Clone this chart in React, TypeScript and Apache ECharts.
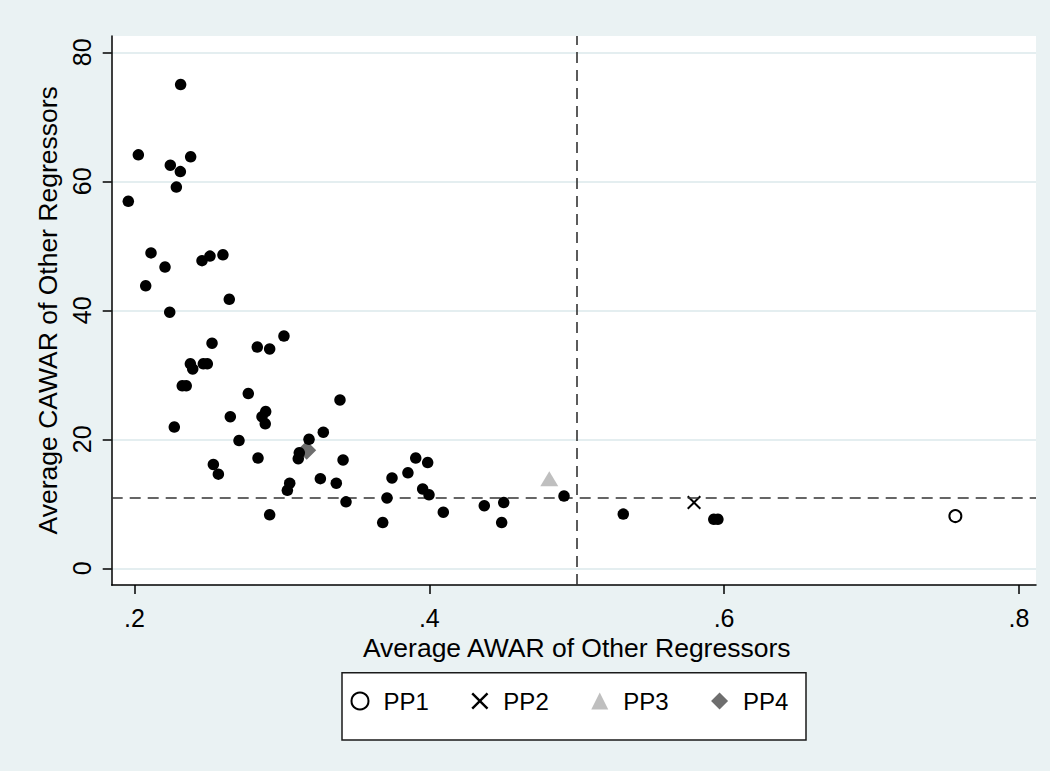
import React, { useEffect, useRef } from 'react';
import * as echarts from 'echarts';

// markers named in the legend
const pp1 = [[0.7569, 8.1]];
const pp2 = [[0.5796, 10.2]];
const pp3 = [[0.4814, 13.9]];
const pp4 = [[0.3168, 18.3]];

// the other regressors (black dots)
const others = [
  [0.2313, 75.0], [0.2026, 64.1], [0.2243, 62.5], [0.2381, 63.8], [0.2311, 61.5],
  [0.2284, 59.1], [0.1958, 56.9], [0.2112, 48.9], [0.2207, 46.7], [0.2458, 47.7],
  [0.2512, 48.4], [0.26, 48.6], [0.2076, 43.8], [0.2643, 41.7], [0.2239, 39.7],
  [0.3014, 36.0], [0.2526, 34.9], [0.2833, 34.3], [0.2917, 34.0], [0.2379, 31.7],
  [0.2395, 30.9], [0.2467, 31.7], [0.2494, 31.7], [0.2324, 28.3], [0.2351, 28.3],
  [0.2772, 27.1], [0.3394, 26.1], [0.227, 21.9], [0.265, 23.5], [0.289, 24.3],
  [0.2865, 23.5], [0.2887, 22.4], [0.3281, 21.1], [0.2709, 19.8], [0.3184, 20.0],
  [0.2838, 17.1], [0.3118, 17.9], [0.3111, 17.0], [0.3415, 16.8], [0.2535, 16.1],
  [0.2569, 14.6], [0.3261, 13.9], [0.3369, 13.2], [0.3053, 13.2], [0.3037, 12.1],
  [0.3435, 10.3], [0.2917, 8.3], [0.3908, 17.1], [0.3989, 16.4], [0.3855, 14.8],
  [0.3747, 14.0], [0.3955, 12.3], [0.3998, 11.4], [0.3713, 10.9], [0.3684, 7.1],
  [0.4095, 8.7], [0.4373, 9.7], [0.4505, 10.2], [0.4491, 7.1], [0.4914, 11.2],
  [0.5316, 8.4], [0.593, 7.6], [0.5958, 7.6],
];

const legendNames = ['PP1', 'PP2', 'PP3', 'PP4'];
const xTickRange = [0.2, 0.8];
const yTickRange = [0, 80];
const refX = 0.5;
const refY = 10.95;

const FONT = 'Liberation Sans, Arial, Helvetica, sans-serif';
const BG = '#eaf2f3';
const CROSS = 'path://M0,10L10,0L50,40L90,0L100,10L60,50L100,90L90,100L50,60L10,100L0,90L40,50Z';

// plot region in pixels
const L = 111.7, R = 1036, T = 36, B = 585;
const X0PX = 134.5, XPX = 1474; // pixel of x=.2, pixels per unit
const Y0PX = 568.3, YPX = 6.45; // pixel of y=0, pixels per unit

export default function App() {
  const ref = useRef<HTMLDivElement>(null);

  useEffect(() => {
    if (!ref.current) return;
    const chart = echarts.init(ref.current, undefined, { renderer: 'svg' });
    const xMin = 0.2 - (X0PX - L) / XPX;
    const xMax = 0.2 + (R - X0PX) / XPX;
    const yMin = -(B - Y0PX) / YPX;
    const yMax = (Y0PX - T) / YPX;
    const gridTop2 = Y0PX - yTickRange[1] * YPX;

    chart.setOption({
      animation: false,
      backgroundColor: BG,
      textStyle: { fontFamily: FONT, color: '#000' },
      graphic: [
        { type: 'rect', z: -10, shape: { x: L, y: T, width: R - L, height: B - T }, style: { fill: '#fff' } },
        {
          type: 'rect', z: -10,
          shape: { x: 342, y: 672.7, width: 464, height: 67.3 },
          style: { fill: '#fff', stroke: '#1a1a1a', lineWidth: 1.5 },
        },
      ],
      legend: {
        data: legendNames,
        left: 350.5,
        top: 689,
        padding: 0,
        itemGap: 42.5,
        itemWidth: 17,
        itemHeight: 17,
        selectedMode: false,
        textStyle: { fontSize: 24, color: '#000', fontFamily: FONT, padding: [0, 0, 0, 10] },
      },
      grid: [
        { left: L, top: T, width: R - L, height: B - T },
        { left: L, top: gridTop2, width: R - L, height: Y0PX - gridTop2 },
        { left: X0PX, top: T, width: (xTickRange[1] - xTickRange[0]) * XPX, height: B - T },
      ],
      xAxis: [
        {
          gridIndex: 0, type: 'value', min: xMin, max: xMax,
          axisLine: { show: true, onZero: false, lineStyle: { color: '#000', width: 1.5 } },
          axisTick: { show: false }, axisLabel: { show: false }, splitLine: { show: false },
        },
        { gridIndex: 1, type: 'value', min: 0, max: 1, show: false },
        {
          gridIndex: 2, type: 'value', min: xTickRange[0], max: xTickRange[1], interval: 0.2,
          axisLine: { show: false, onZero: false },
          axisTick: { show: true, length: 9, lineStyle: { color: '#000', width: 1.5 } },
          axisLabel: {
            fontSize: 25, color: '#000', margin: 20, fontFamily: FONT,
            formatter: (v: number) => v.toFixed(1).replace(/^0/, ''),
          },
          splitLine: { show: false },
          name: 'Average AWAR of Other Regressors',
          nameLocation: 'middle',
          nameGap: 47,
          nameTextStyle: { fontSize: 26.5, color: '#000', fontFamily: FONT },
        },
      ],
      yAxis: [
        {
          gridIndex: 0, type: 'value', min: yMin, max: yMax,
          axisLine: { show: true, onZero: false, lineStyle: { color: '#000', width: 1.5 } },
          axisTick: { show: false }, axisLabel: { show: false }, splitLine: { show: false },
        },
        {
          gridIndex: 1, type: 'value', min: yTickRange[0], max: yTickRange[1], interval: 20,
          axisLine: { show: false, onZero: false },
          axisTick: { show: true, length: 9, lineStyle: { color: '#000', width: 1.5 } },
          axisLabel: { fontSize: 25, color: '#000', rotate: 90, margin: 17, fontFamily: FONT },
          splitLine: { show: true, lineStyle: { color: '#e4eef0', width: 2 } },
          name: 'Average CAWAR of Other Regressors',
          nameLocation: 'middle',
          nameGap: 45,
          nameTextStyle: { fontSize: 26.5, color: '#000', fontFamily: FONT },
        },
        { gridIndex: 2, type: 'value', min: 0, max: 1, show: false },
      ],
      series: [
        {
          name: 'refs', type: 'scatter', xAxisIndex: 0, yAxisIndex: 0, data: [], z: 1,
          markLine: {
            silent: true, symbol: ['none', 'none'], label: { show: false },
            lineStyle: { color: '#333', width: 1.6, type: [11, 7] },
            data: [{ xAxis: refX }, { yAxis: refY }],
          },
        },
        {
          name: 'PP1', type: 'scatter', xAxisIndex: 0, yAxisIndex: 0, data: pp1, z: 3,
          symbol: 'emptyCircle', symbolSize: 12,
          itemStyle: { color: '#000', borderColor: '#000', borderWidth: 2, opacity: 1 },
        },
        {
          name: 'PP2', type: 'scatter', xAxisIndex: 0, yAxisIndex: 0, data: pp2, z: 3,
          symbol: CROSS, symbolSize: 14, itemStyle: { color: '#000', opacity: 1 },
        },
        {
          name: 'PP3', type: 'scatter', xAxisIndex: 0, yAxisIndex: 0, data: pp3, z: 3,
          symbol: 'triangle', symbolSize: [18, 15], itemStyle: { color: '#bfbfbf', opacity: 1 },
        },
        {
          name: 'PP4', type: 'scatter', xAxisIndex: 0, yAxisIndex: 0, data: pp4, z: 3,
          symbol: 'diamond', symbolSize: 19, itemStyle: { color: '#6e6e6e', opacity: 1 },
        },
        {
          name: 'others', type: 'scatter', xAxisIndex: 0, yAxisIndex: 0, data: others, z: 5,
          symbol: 'circle', symbolSize: 11.5, itemStyle: { color: '#000', opacity: 1 },
        },
      ],
    });
    return () => chart.dispose();
  }, []);

  return <div ref={ref} style={{ position: 'absolute', left: 0, top: 0, width: 1050, height: 771 }} />;
}
